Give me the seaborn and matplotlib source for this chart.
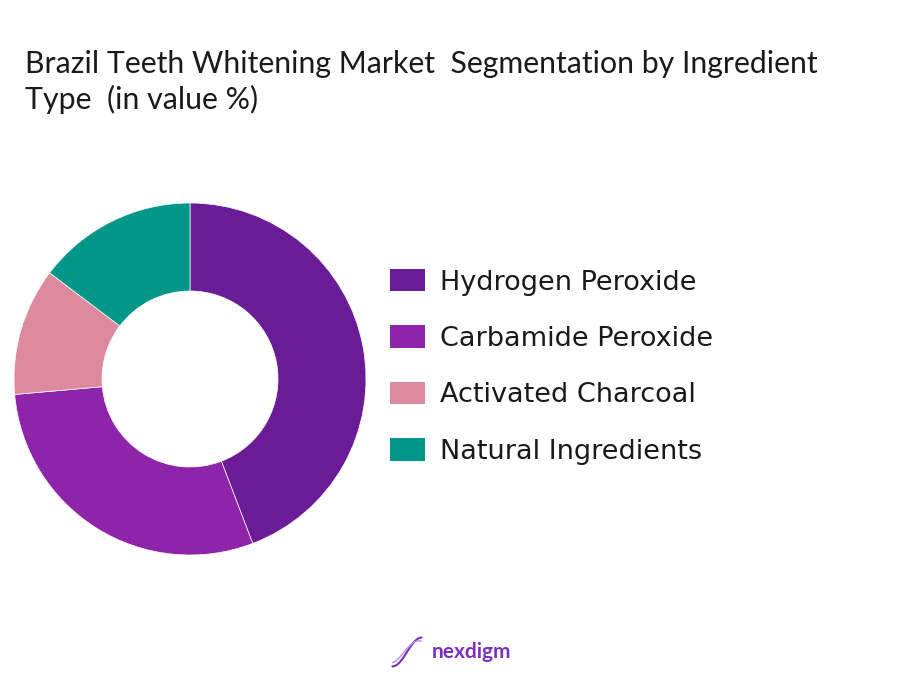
import numpy as np
import matplotlib
matplotlib.use('Agg')
import matplotlib.pyplot as plt
import matplotlib.patches as mpatches
import seaborn as sns

sns.set_theme(style='white')
plt.rcParams['font.family'] = ['Lato', 'DejaVu Sans']

# 데이터
segments = ['Hydrogen Peroxide', 'Carbamide Peroxide', 'Activated Charcoal', 'Natural Ingredients']
shares = [44.2, 29.4, 11.7, 14.7]
colors = ['#6A1B96', '#8E24AA', '#DE8A9E', '#009688']

title = 'Brazil Teeth Whitening Market  Segmentation by Ingredient\nType  (in value %)'

fig = plt.figure(figsize=(9.01, 6.76), dpi=100)
W, H = 901, 676

# 도넛 차트
ax = fig.add_axes([14 / W, (H - 555) / H, 352 / W, 352 / H])
wedges, _ = ax.pie(shares, colors=colors, startangle=90, counterclock=False,
                   radius=1, wedgeprops=dict(width=0.5, edgecolor='white', linewidth=0.5))
ax.set_xlim(-1, 1)
ax.set_ylim(-1, 1)
ax.axis('off')

# 범례
handles = [mpatches.Patch(facecolor=c, edgecolor='none') for c in colors]
leg = fig.legend(handles, segments, loc='upper left', bbox_to_anchor=(390 / W, (H - 269) / H),
                 frameon=False, borderpad=0, borderaxespad=0,
                 prop={'family': 'DejaVu Sans', 'size': 19.5},
                 handlelength=1.3, handleheight=0.9,
                 handletextpad=0.55, labelspacing=1.1)
for txt in leg.get_texts():
    txt.set_color('#1a1a1a')

# 제목
fig.text(25 / W, (H - 50) / H, title, fontsize=21.8, va='top', ha='left',
         color='#1a1a1a', linespacing=1.3)

# 로고
fig.text(432 / W, (H - 652) / H, 'nexdigm', fontsize=15, fontweight='bold',
         color='#7B2FBE', va='center', ha='left')
lax = fig.add_axes([391 / W, (H - 668) / H, 32 / W, 32 / H])
t = np.linspace(0, 1, 50)
lax.plot(t, 0.5 - 0.45 * np.cos(np.pi * t), color='#7B2FBE', lw=1.5)
lax.plot(t, 0.5 - 0.35 * np.cos(np.pi * t + 0.3), color='#C08CE0', lw=1.0)
lax.set_xlim(-0.05, 1.05)
lax.set_ylim(0, 1)
lax.axis('off')

fig.savefig('out.png', dpi=100)
